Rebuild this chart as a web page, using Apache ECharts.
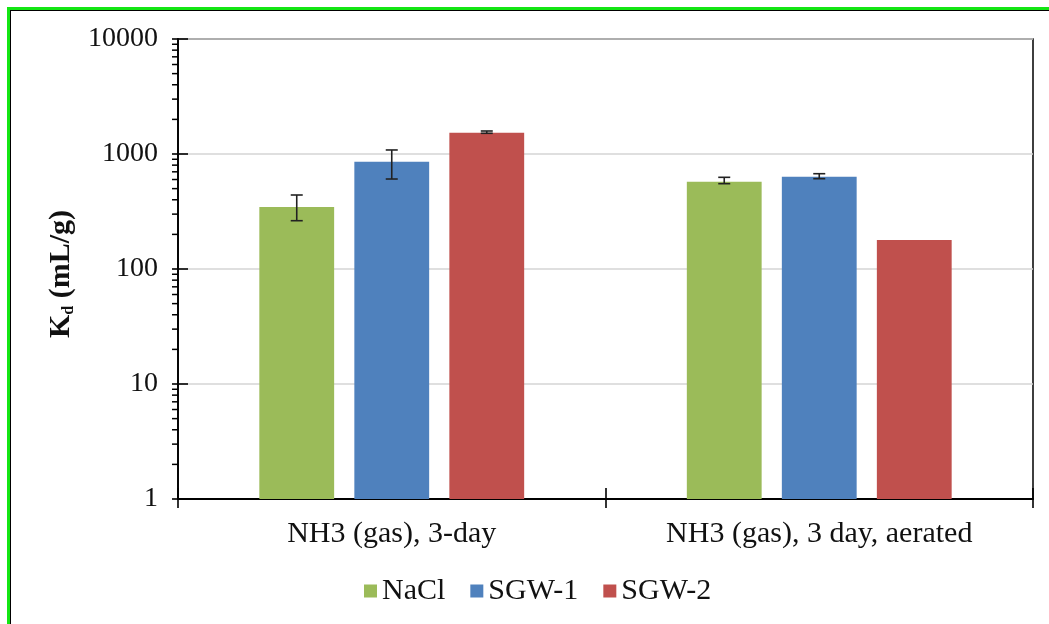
<!DOCTYPE html>
<html>
<head>
<meta charset="utf-8">
<script src="https://cdn.jsdelivr.net/npm/echarts@6/dist/echarts.min.js"></script>
<style>
  html, body { margin: 0; padding: 0; background: #fff; overflow: hidden; }
  #chart { position: absolute; left: 0; top: 0; width: 1049px; height: 624px; }
  .frame { position: absolute; pointer-events: none; }
  #frameGreen { left: 7px; top: 7px; right: -40px; bottom: -40px;
    border-left: 3px solid #14e614; border-top: 3px solid #14e614; }
  #frameBlack { left: 10px; top: 10px; right: -40px; bottom: -40px;
    border-left: 1.5px solid #000; border-top: 1.5px solid #000; }
</style>
</head>
<body>
<div id="chart"></div>
<div class="frame" id="frameGreen"></div>
<div class="frame" id="frameBlack"></div>
<script>
// Treatments on the x axis
const categories = ['NH3 (gas), 3-day', 'NH3 (gas), 3 day, aerated'];
const seriesNames = ['NaCl', 'SGW-1', 'SGW-2'];

// Kd (mL/g) per solution
const naclKd = [346, 574];
const sgw1Kd = [857, 635];
const sgw2Kd = [1530, 179];

// Error bar ranges [low, high]; null where none is shown
const naclErr = [[263, 440], [552, 627]];
const sgw1Err = [[606, 1084], [610, 674]];
const sgw2Err = [[1514, 1585], null];

const colors = ['#9BBB59', '#4F81BD', '#C0504D'];
const FONT = 'Liberation Serif, Times New Roman, serif';
const BAR_W = 0.175;   // fraction of category band
const BAR_GAP = 0.27;  // fraction of bar width

const chart = echarts.init(document.getElementById('chart'), null, { renderer: 'canvas' });

// minor ticks of the log axis at 2..9 within each decade
const decades = [1, 10, 100, 1000];
const minorTicks = [];
decades.forEach(d => { for (let m = 2; m <= 9; m++) minorTicks.push([0, m * d]); });

function errorSeries(idx, ranges) {
  const data = ranges.map((r, i) => r ? [i, r[0], r[1]] : [i, null, null]);
  return {
    type: 'custom',
    name: seriesNames[idx] + ' error',
    xAxisIndex: 0, yAxisIndex: 0,
    z: 5,
    silent: true,
    clip: false,
    encode: { x: 0, y: [1, 2] },
    data: data,
    renderItem: function (params, api) {
      const lo = api.value(1), hi = api.value(2);
      if (lo == null || hi == null || isNaN(lo) || isNaN(hi)) return null;
      const cat = api.value(0);
      const band = api.size([1, 1])[0];
      const w = band * BAR_W, g = w * BAR_GAP;
      const cx = api.coord([cat, lo])[0] + (idx - 1) * (w + g);
      const yl = api.coord([cat, lo])[1];
      const yh = api.coord([cat, hi])[1];
      const cap = 6;
      const st = { stroke: '#222', lineWidth: 1.6 };
      return {
        type: 'group',
        children: [
          { type: 'line', shape: { x1: cx, y1: yl, x2: cx, y2: yh }, style: st },
          { type: 'line', shape: { x1: cx - cap, y1: yh, x2: cx + cap, y2: yh }, style: st },
          { type: 'line', shape: { x1: cx - cap, y1: yl, x2: cx + cap, y2: yl }, style: st }
        ]
      };
    }
  };
}

const barValues = [naclKd, sgw1Kd, sgw2Kd];
const errValues = [naclErr, sgw1Err, sgw2Err];

const series = [];
seriesNames.forEach((n, i) => {
  series.push({
    type: 'bar',
    name: n,
    data: barValues[i],
    xAxisIndex: 0, yAxisIndex: 0,
    barWidth: (BAR_W * 100) + '%',
    barGap: (BAR_GAP * 100) + '%',
    itemStyle: { color: colors[i] },
    z: 3
  });
});
errValues.forEach((e, i) => series.push(errorSeries(i, e)));

series.push({
  type: 'custom',
  name: 'minor ticks',
  xAxisIndex: 0, yAxisIndex: 0,
  silent: true,
  clip: false,
  z: 6,
  data: minorTicks,
  renderItem: function (params, api) {
    const x0 = params.coordSys.x;
    const y = api.coord([0, api.value(1)])[1];
    return { type: 'line', shape: { x1: x0 - 6, y1: y, x2: x0, y2: y },
      style: { stroke: '#000', lineWidth: 1.5 } };
  }
});

const yBase = {
  type: 'log',
  logBase: 10,
  min: 1,
  max: 10000,
  position: 'left'
};

chart.setOption({
  animation: false,
  backgroundColor: '#fff',
  grid: {
    left: 178, right: 16, top: 39, bottom: 125,
    show: true, borderColor: '#000', borderWidth: 1.5, backgroundColor: 'transparent'
  },
  legend: {
    data: seriesNames,
    left: 359,
    top: 571,
    icon: 'rect',
    itemWidth: 13,
    itemHeight: 13,
    itemGap: 25,
    textStyle: { fontFamily: FONT, fontSize: 30, color: '#111' }
  },
  xAxis: [
    {
      type: 'category',
      data: categories,
      boundaryGap: true,
      axisLine: { lineStyle: { color: '#000', width: 1.8 } },
      axisTick: { show: true, interval: 0, length: 9, lineStyle: { color: '#000', width: 1.6 } },
      axisLabel: { fontFamily: FONT, fontSize: 30, color: '#111', margin: 20, interval: 0 },
      splitLine: { show: false }
    },
    {
      type: 'category',
      data: categories,
      position: 'bottom',
      boundaryGap: true,
      axisLine: { show: false },
      axisTick: { show: true, inside: true, interval: 0, length: 11, lineStyle: { color: '#000', width: 1.6 } },
      axisLabel: { show: false },
      splitLine: { show: false }
    }
  ],
  yAxis: [
    Object.assign({}, yBase, {
      name: '{k|K}{d|d}{k| (mL/g)}',
      nameLocation: 'middle',
      nameRotate: 90,
      nameGap: 100,
      nameTextStyle: {
        padding: [0, 10, 0, 0],
        rich: {
          k: { fontFamily: FONT, fontSize: 30, fontWeight: 'bold', color: '#111', lineHeight: 32 },
          d: { fontFamily: FONT, fontSize: 16, fontWeight: 'bold', color: '#111', lineHeight: 18,
               verticalAlign: 'bottom', padding: [14, 0, 0, 0] }
        }
      },
      axisLine: { show: true, lineStyle: { color: '#000', width: 1.8 } },
      axisTick: { show: true, length: 6, lineStyle: { color: '#000', width: 1.6 } },
      axisLabel: { fontFamily: FONT, fontSize: 28, color: '#111', margin: 20,
        padding: [5, 0, 0, 0],
        formatter: v => String(Math.round(v)) },
      splitLine: { show: true, lineStyle: { color: '#d4d4d4', width: 1.5 } }
    }),
    Object.assign({}, yBase, {
      axisLine: { show: false },
      axisTick: { show: true, inside: true, length: 10, lineStyle: { color: '#000', width: 1.6 } },
      axisLabel: { show: false },
      splitLine: { show: false }
    })
  ],
  series: series
});
</script>
</body>
</html>
